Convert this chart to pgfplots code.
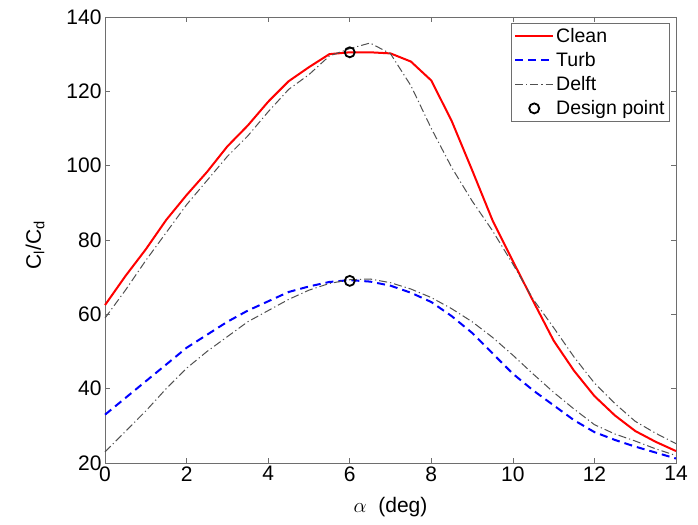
\documentclass[border=0pt]{standalone}
\usepackage{fontspec}
\setmainfont{Liberation Sans}
\usepackage{pgfplots}
\pgfplotsset{compat=1.18}

\definecolor{axgray}{RGB}{110,110,110}
\definecolor{delftgray}{RGB}{80,80,80}

\pgfplotsset{
  linelegend/.style={legend image code/.code={\draw[##1] (0pt,0pt) -- (38pt,0pt);}},
  marklegend/.style={legend image code/.code={\draw[##1] plot coordinates {(19pt,0pt)};}},
}

\begin{document}
\begin{tikzpicture}
\begin{axis}[
  scale only axis,
  width=571pt, height=446pt,
  xmin=0, xmax=14, ymin=20, ymax=140,
  xtick={0,2,...,14}, ytick={20,40,...,140},
  tick align=inside,
  major tick length=5pt,
  axis line style={axgray, line width=0.8pt},
  every tick/.style={axgray, line width=0.6pt},
  tick label style={font=\fontsize{21}{24}\selectfont},
  /pgf/number format/assume math mode=true,
  xlabel={$\alpha$\ \ (deg)},
  ylabel={C\textsubscript{l}/C\textsubscript{d}},
  label style={font=\fontsize{21}{24}\selectfont},
  xlabel style={at={(rel axis cs:0.5,-0.1)}, anchor=center},
  ylabel style={at={(rel axis cs:-0.1226,0.489)}, anchor=center},
  clip=false,
  legend cell align=left,
  legend style={at={(0.9895,0.987)}, anchor=north east,
    draw=axgray, line width=0.8pt,
    font=\fontsize{19.5}{22}\selectfont,
    row sep=4.5pt, inner sep=3pt},
]
\addplot[red, line width=2pt, linelegend] coordinates {
  (0,62.5) (0.5,70.3) (1,77.5) (1.5,85.4) (2,92.1) (2.5,98.3) (3,105.2)
  (3.5,110.8) (4,117.2) (4.5,122.7) (5,126.5) (5.5,130) (6,130.5)
  (6.5,130.5) (7,130.2) (7.5,128) (8,122.9) (8.5,112) (9,98.8) (9.5,85.3)
  (10,74.3) (10.5,63.5) (11,52.9) (11.5,44.8) (12,38) (12.5,32.8)
  (13,28.6) (13.5,25.7) (14,23.2)
};
\addlegendentry{Clean}
\addplot[blue, line width=2pt, dash pattern=on 8pt off 5pt, linelegend] coordinates {
  (0,33) (0.5,37.5) (1,42) (1.5,46.5) (2,51) (2.5,54.5) (3,58) (3.5,61)
  (4,63.5) (4.5,66) (5,67.5) (5.5,68.7) (6,69.2) (6.5,68.8) (7,67.7)
  (7.5,65.8) (8,63.3) (8.5,59.5) (9,55) (9.5,49.5) (10,44) (10.5,39.5)
  (11,35.5) (11.5,31.5) (12,28.3) (12.5,26.2) (13,24.4) (13.5,22.8)
  (14,21.2)
};
\addlegendentry{Turb}
\addplot[delftgray, line width=1pt, dash pattern=on 8pt off 3pt on 1.2pt off 3pt, linelegend] coordinates {
  (0,59) (0.5,66.5) (1,74.5) (1.5,82) (2,89.5) (2.5,96) (3,102.5)
  (3.5,108) (4,114.5) (4.5,120.5) (5,124.5) (5.5,129.5) (6,131.5)
  (6.5,133) (7,130.1) (7.5,121.5) (8,110) (8.5,99.5) (9,90.5) (9.5,82.5)
  (10,73.5) (10.5,64) (11,56.4) (11.5,48.5) (12,41.5) (12.5,36)
  (13,31.2) (13.5,28) (14,25.2)
};
\addlegendentry{Delft}
\addplot[delftgray, line width=1pt, dash pattern=on 8pt off 3pt on 1.2pt off 3pt, forget plot] coordinates {
  (0,23) (0.5,28.5) (1,34) (1.5,40) (2,45.5) (2.5,50) (3,54) (3.5,58)
  (4,61) (4.5,64) (5,66.5) (5.5,68.3) (6,69.3) (6.5,69.5) (7,68.5)
  (7.5,66.8) (8,64.5) (8.5,61.5) (9,58) (9.5,53.8) (10,49) (10.5,43.9)
  (11,39) (11.5,34.5) (12,30.3) (12.5,27.8) (13,25.9) (13.5,23.8) (14,22)
};
\addplot[only marks, mark=o, mark size=5pt, black, line width=1.8pt, marklegend]
  coordinates {(6,130.5) (6,69)};
\addlegendentry{Design point}
\path (rel axis cs:-0.184,-0.139) (rel axis cs:1.0385,1.0381);
\end{axis}
\end{tikzpicture}
\end{document}
